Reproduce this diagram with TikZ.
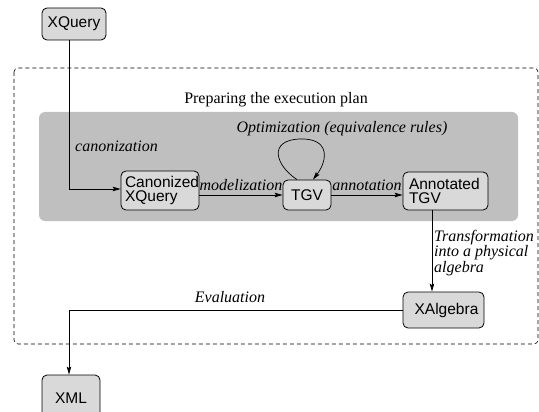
\documentclass[tikz,border=0pt]{standalone}
\usepackage{fontspec}
\setmainfont{Liberation Serif}
\setsansfont{Liberation Sans}
\usetikzlibrary{arrows.meta}
\definecolor{panelgray}{RGB}{191,191,191}
\definecolor{boxgray}{RGB}{217,217,217}
\begin{document}
\begin{tikzpicture}[x=1pt,y=-1pt,
  box/.style={draw=black, line width=0.8pt, fill=boxgray, rounded corners=5pt,
    font=\sffamily\fontsize{15.5}{15.5}\selectfont, inner sep=0pt},
  twoline/.style={box, align=left, inner xsep=4pt, inner ysep=0pt},
  lbl/.style={font=\itshape\fontsize{16}{13}\selectfont, inner sep=0pt},
  arr/.style={line width=0.7pt, -{Stealth[length=8pt,width=4.5pt,inset=1.5pt]}},
  ln/.style={line width=0.7pt}]
\path[use as bounding box] (0,0) rectangle (539,412);

% outer dashed frame and the shaded planning panel
\draw[line width=0.6pt, dash pattern=on 4pt off 3pt, rounded corners=4pt]
  (14,68) rectangle (538,344);
\fill[panelgray, rounded corners=6pt] (39,112) rectangle (518,221);
\node[anchor=base, font=\fontsize{16}{16}\selectfont, inner sep=0pt] (title) at (276,103)
  {Preparing the execution plan};
\node[lbl, anchor=base] (optlbl) at (342,132) {Optimization (equivalence rules)};

% nodes
\node[box, minimum width=64pt, minimum height=32pt] (xq) at (74,24) {XQuery};
\node[twoline, text width=70pt, minimum height=39pt] (can) at (160,190.5)
  {Canonized\\[-1pt]XQuery};
\node[box, minimum width=48pt, minimum height=30pt] (tgv) at (307,195) {TGV};
\node[twoline, text width=73pt, inner xsep=6pt, minimum height=38pt] (ann) at (445.5,191)
  {Annotated\\[-1pt]TGV};
\node[box, minimum width=81pt, minimum height=36pt, text depth=3pt] (xalg) at (443.5,310)
  {\hspace*{6pt}XAlgebra};
\node[box, minimum width=58pt, minimum height=46pt] (xml) at (71,398) {XML};

% connectors
\draw[arr] ([xshift=-5pt]xq.south) |- ([yshift=1.5pt]can.west);
\node[lbl, anchor=base west] (canlbl) at (75,152) {canonization};

\draw[arr] (can.east |- tgv.west) -- node[lbl, above=4pt] {modelization} (tgv.west);
\draw[arr] (tgv.east) -- node[lbl, above=4pt] {annotation} (ann.west |- tgv.east);

\draw[arr] ([xshift=-10pt]tgv.north) .. controls (275,165) and (268,140) .. (300,139)
  .. controls (330,138) and (328,160) .. ([xshift=6pt]tgv.north);

\draw[arr] ([xshift=-13.5pt]ann.south) -- ([xshift=-13.5pt]ann.south |- xalg.north);
\node[lbl, anchor=north west, align=left] (trlbl) at (434,230)
  {Transformation\\into a physical\\algebra};

\draw[arr] (xalg.west) -| ([xshift=-2pt]xml.north);
\node[lbl, anchor=base] (evlbl) at (230,302) {Evaluation};
\end{tikzpicture}
\end{document}
